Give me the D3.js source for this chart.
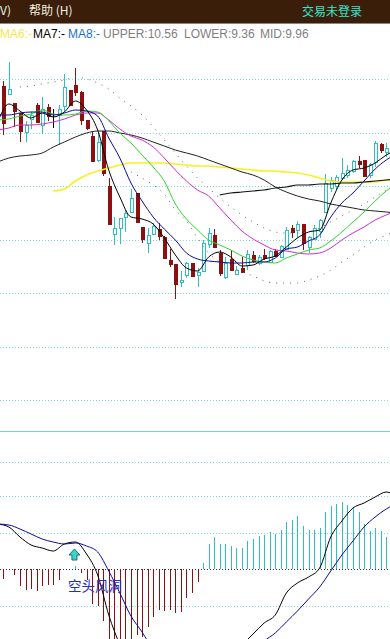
<!DOCTYPE html>
<html lang="zh">
<head>
<meta charset="UTF-8">
<title>K线</title>
<style>
    html, body { margin: 0; padding: 0; background: #fff; overflow: hidden; }
    svg { display: block; }
</style>
</head>
<body>
<script src="https://cdnjs.cloudflare.com/ajax/libs/d3/7.8.2/d3.min.js"></script>
<script>

// one entry per bar
const highs = [10.95,11.14,10.73,10.63,10.55,10.64,10.73,10.79,10.72,10.67,10.71,11.02,10.86,11.08,10.85,10.56,10.44,10.43,10.45,9.98,9.59,9.58,9.66,9.87,9.83,9.49,9.48,9.53,9.53,9.40,9.27,9.12,9.05,9.14,9.13,9.08,9.36,9.48,9.47,9.26,9.19,9.26,9.10,9.19,9.26,9.25,9.21,9.27,9.26,9.27,9.31,9.49,9.51,9.55,9.52,9.40,9.51,9.57,10.02,9.99,10.01,10.18,10.11,10.16,10.20,10.16,10.13,10.35,10.33,10.33];
const opens = [10.90,10.82,10.73,10.63,10.44,10.57,10.71,10.51,10.69,10.61,10.61,10.70,10.86,10.91,10.84,10.56,10.40,10.16,10.45,9.90,9.42,9.48,9.59,9.64,9.83,9.49,9.33,9.42,9.47,9.39,9.16,9.12,8.94,9.01,9.13,9.01,9.05,9.32,9.41,9.23,8.99,9.17,9.02,9.08,9.11,9.21,9.13,9.21,9.14,9.25,9.19,9.27,9.48,9.46,9.52,9.29,9.37,9.45,9.64,9.88,9.90,9.98,10.01,10.05,10.15,10.16,10.01,10.14,10.32,10.24];
const closes = [10.53,10.87,10.65,10.45,10.51,10.61,10.54,10.67,10.60,10.61,10.67,10.89,10.71,10.84,10.56,10.48,10.15,10.34,10.03,9.52,9.48,9.58,9.63,9.78,9.54,9.37,9.41,9.50,9.40,9.18,9.12,8.92,8.96,9.13,9.00,9.04,9.33,9.43,9.29,9.03,9.13,9.06,9.06,9.04,9.22,9.15,9.19,9.18,9.25,9.20,9.30,9.46,9.44,9.52,9.33,9.39,9.48,9.56,9.93,9.96,9.99,10.03,10.06,10.15,10.12,10.00,10.12,10.33,10.26,10.28];
const lows = [10.41,10.81,10.49,10.34,10.34,10.47,10.53,10.42,10.55,10.48,10.31,10.64,10.71,10.80,10.51,10.46,10.15,10.14,10.00,9.52,9.31,9.32,9.44,9.64,9.53,9.33,9.23,9.41,9.36,9.17,9.09,8.77,8.89,8.98,8.99,8.89,9.05,9.28,9.29,9.00,8.97,9.06,9.01,9.03,9.06,9.13,9.11,9.16,9.13,9.19,9.19,9.26,9.38,9.38,9.26,9.23,9.36,9.38,9.64,9.84,9.86,9.96,9.98,10.03,10.08,10.00,9.98,10.09,10.23,10.19];
const macdHist = [-0.10,0,-0.06,-0.17,-0.21,-0.20,-0.22,-0.17,-0.16,-0.16,-0.11,0,0,0.03,-0.04,-0.11,-0.35,-0.37,-0.52,-0.75,-0.75,-0.72,-0.75,-0.72,-0.66,-0.68,-0.58,-0.48,-0.41,-0.42,-0.41,-0.44,-0.43,-0.29,-0.24,-0.13,0.06,0.25,0.32,0.25,0.25,0.23,0.21,0.21,0.28,0.30,0.33,0.34,0.37,0.35,0.39,0.47,0.49,0.53,0.43,0.39,0.39,0.41,0.57,0.63,0.65,0.67,0.64,0.62,0.57,0.45,0.38,0.41,0.38,0.32];

// the lines were read every second bar, starting one bar off the left edge
const sampleBars = d3.range(-1, 72, 2);
const ma5 = [10.54,10.72,10.65,10.58,10.63,10.59,10.64,10.75,10.66,10.46,10.06,9.79,9.59,9.57,9.52,9.38,9.21,9.08,9.05,9.19,9.24,9.19,9.10,9.11,9.17,9.20,9.29,9.38,9.44,9.46,9.73,9.96,10.06,10.08,10.13,10.21,10.26];
const ma10 = [10.61,10.61,10.63,10.64,10.64,10.61,10.63,10.66,10.65,10.60,10.38,10.18,9.93,9.75,9.59,9.47,9.36,9.23,9.17,9.15,9.14,9.13,9.13,9.14,9.14,9.18,9.27,9.29,9.35,9.41,9.59,9.73,9.83,9.95,10.07,10.16,10.23];
const ma20 = [10.56,10.57,10.60,10.62,10.66,10.62,10.61,10.62,10.65,10.64,10.55,10.43,10.33,10.21,10.09,9.95,9.72,9.57,9.46,9.36,9.31,9.26,9.20,9.16,9.14,9.13,9.18,9.22,9.26,9.28,9.35,9.44,9.54,9.64,9.75,9.85,9.93];
const ma30 = [10.46,10.48,10.51,10.51,10.52,10.54,10.57,10.61,10.63,10.63,10.56,10.47,10.40,10.36,10.29,10.18,10.06,9.95,9.86,9.80,9.68,9.56,9.45,9.37,9.31,9.26,9.25,9.23,9.22,9.23,9.28,9.36,9.43,9.49,9.56,9.61,9.66];
const ma60 = [10.14,10.18,10.20,10.21,10.23,10.29,10.34,10.39,10.43,10.45,10.45,10.43,10.41,10.38,10.34,10.30,10.26,10.23,10.20,10.16,10.12,10.08,10.04,10.01,9.96,9.89,9.84,9.80,9.77,9.75,9.72,9.70,9.68,9.66,9.65,9.64,9.63];
const ma120 = [null,null,null,null,null,9.85,9.87,9.95,10.01,10.05,10.08,10.11,10.13,10.13,10.13,10.13,10.12,10.11,10.10,10.10,10.09,10.08,10.07,10.06,10.05,10.05,10.04,10.03,10.01,9.98,9.95,9.94,9.94,9.94,9.94,9.96,9.97];
const ma250 = [null,null,null,null,null,null,null,null,null,null,null,null,null,null,null,null,null,null,null,null,9.81,9.83,9.84,9.85,9.86,9.88,9.89,9.91,9.91,9.92,9.92,9.93,9.93,9.94,9.95,9.96,9.97];
const upper = [null,null,10.89,10.90,10.92,10.94,10.96,10.99,10.97,10.93,10.87,10.78,10.70,10.61,10.49,10.36,10.23,10.10,9.98,9.88,9.78,9.69,9.61,9.54,9.48,9.44,9.43,9.43,9.44,9.48,9.54,9.60,9.66,9.72,9.79,9.86,9.91];
const lower = [null,null,null,null,null,null,null,null,null,null,null,null,10.04,9.98,9.91,9.82,9.66,9.55,9.38,9.23,9.14,9.09,9.04,9.00,8.95,8.93,8.93,8.93,8.96,9.00,9.06,9.14,9.21,9.29,9.36,9.41,9.45];
const dif = [0.45,0.42,0.32,0.24,0.21,0.18,0.25,0.27,0.15,-0.06,-0.46,-0.76,-1.01,-1.21,-1.31,-1.36,-1.31,-1.26,-1.16,-1.06,-0.96,-0.86,-0.76,-0.65,-0.54,-0.46,-0.24,-0.14,-0.08,0.01,0.32,0.48,0.61,0.66,0.72,0.77,0.72];
const dea = [0.45,0.44,0.40,0.35,0.30,0.27,0.25,0.26,0.23,0.17,-0.02,-0.24,-0.47,-0.63,-0.81,-0.96,-1.11,-1.21,-1.26,-1.23,-1.16,-1.06,-0.96,-0.83,-0.72,-0.64,-0.53,-0.42,-0.30,-0.18,-0.02,0.14,0.28,0.42,0.52,0.60,0.66];

const priceGrid = [10.97,10.43,9.90,9.36,8.83,8.29,7.76];
const macdGrid = [1.07,0.73,0.36,-0.37];
const legend = [
    {label:"MA6:-", color:"#f2e84e", at:0},
    {label:"MA7:-", color:"#000", at:33},
    {label:"MA8:-", color:"#1a72c8", at:68},
    {label:"UPPER:10.56", color:"#808080", at:103},
    {label:"LOWER:9.36", color:"#808080", at:184},
    {label:"MID:9.96", color:"#808080", at:260}
];
const signalBar = 13;

const w = 390;
const h = 639;
const red = "#8b1010";
const teal = "#2cc0c0";

const svg = d3.select("body").append("svg")
    .attr("width", w)
    .attr("height", h);

const x = d3.scaleLinear().domain([0, 69]).range([3.3, 386.25]);
const yPrice = d3.scaleLinear().domain([11.76, 7.46]).range([0, 430]);
const yMacd = d3.scaleLinear().domain([1.38, -0.70]).range([431, 639]);
const snap = v => Math.round(v) + 0.5;

// header
svg.append("rect").attr("width", w).attr("height", 23).attr("fill", "#3a1e0a");
svg.append("rect").attr("y", 23).attr("width", w).attr("height", 1).attr("fill", "#8a8580");
svg.append("text").attr("x", 0).attr("y", 15).attr("fill", "#f4efe0")
    .style("font", "12px 'Noto Sans CJK SC'").text("V)");
svg.append("text").attr("x", 29).attr("y", 15).attr("fill", "#f4efe0")
    .style("font", "12px 'Noto Sans CJK SC'").text("帮助 (H)");
svg.append("text").attr("x", 302).attr("y", 16).attr("fill", "#35e6cf")
    .style("font", "12px 'Noto Sans CJK SC'").text("交易未登录");

svg.selectAll("text.legend")
    .data(legend)
    .enter()
    .append("text")
        .attr("class", "legend")
        .attr("x", d => d.at)
        .attr("y", 38)
        .attr("fill", d => d.color)
        .style("font", "12px 'Liberation Sans'")
        .text(d => d.label);

// grid
svg.selectAll("line.grid")
    .data(priceGrid.map(yPrice).concat(macdGrid.map(yMacd)))
    .enter()
    .append("line")
        .attr("class", "grid")
        .attr("x1", 0).attr("x2", w)
        .attr("y1", d => snap(d)).attr("y2", d => snap(d))
        .attr("stroke", "#7fdcdc")
        .attr("stroke-dasharray", "1 2");

svg.append("line")
    .attr("x1", 0).attr("x2", w)
    .attr("y1", 431.5).attr("y2", 431.5)
    .attr("stroke", "#6fd4d4");

svg.append("line")
    .attr("x1", 0).attr("x2", w)
    .attr("y1", snap(yMacd(0))).attr("y2", snap(yMacd(0)))
    .attr("stroke", "#333")
    .attr("stroke-dasharray", "1 2");

// macd bars
svg.selectAll("line.hist")
    .data(macdHist)
    .enter()
    .append("line")
        .attr("class", "hist")
        .attr("shape-rendering", "crispEdges")
        .attr("x1", (d, i) => snap(x(i))).attr("x2", (d, i) => snap(x(i)))
        .attr("y1", yMacd(0))
        .attr("y2", d => yMacd(d))
        .attr("stroke", d => d < 0 ? red : teal);

// candles
const candles = svg.selectAll("g.candle")
    .data(d3.range(highs.length))
    .enter()
    .append("g")
        .attr("class", "candle")
        .attr("shape-rendering", "crispEdges");

const candleColor = i => closes[i] < opens[i] ? red : (closes[i] == opens[i] ? "#000" : teal);

candles.append("line")
    .attr("x1", i => snap(x(i))).attr("x2", i => snap(x(i)))
    .attr("y1", i => yPrice(highs[i])).attr("y2", i => yPrice(lows[i]))
    .attr("stroke", candleColor);

candles.append("rect")
    .attr("x", i => Math.round(x(i)) - 1)
    .attr("y", i => Math.round(yPrice(Math.max(opens[i], closes[i]))) + 0.5)
    .attr("width", 3)
    .attr("height", i => Math.max(0, yPrice(Math.min(opens[i], closes[i])) - yPrice(Math.max(opens[i], closes[i]))))
    .attr("fill", i => closes[i] < opens[i] ? red : "#fff")
    .attr("stroke", candleColor);

// lines
const priceLine = d3.line()
    .defined(d => d !== null)
    .x((d, i) => x(sampleBars[i]))
    .y(d => yPrice(d))
    .curve(d3.curveMonotoneX);

const macdLine = d3.line()
    .x((d, i) => x(sampleBars[i]))
    .y(d => yMacd(d))
    .curve(d3.curveMonotoneX);

const drawLine = (gen, values, color, width, dash) => svg.append("path")
    .attr("d", gen(values))
    .attr("fill", "none")
    .attr("stroke", color)
    .attr("stroke-width", width)
    .attr("stroke-dasharray", dash || null);

drawLine(priceLine, upper, "#666", 1, "1 6");
drawLine(priceLine, lower, "#666", 1, "1 6");
drawLine(priceLine, ma120, "#f6f21e", 1.6);
drawLine(priceLine, ma60, "#222", 1);
drawLine(priceLine, ma250, "#111", 1.2);
drawLine(priceLine, ma30, "#d02cd0", 1);
drawLine(priceLine, ma20, "#2cd82c", 1);
drawLine(priceLine, ma10, "#0c0c9c", 1);
drawLine(priceLine, ma5, "#000", 1);

drawLine(macdLine, dif, "#000", 1);
drawLine(macdLine, dea, "#0c0c9c", 1);

// signal
const ax = x(signalBar) - 1;
svg.append("path")
    .attr("d", `M${ax},549 l5.5,6 h-3 v5 h-5 v-5 h-3 Z`)
    .attr("fill", "#35d8c8")
    .attr("stroke", "#2a6a6a");

svg.append("text")
    .attr("x", 68).attr("y", 591)
    .attr("fill", "#1f2fc0")
    .style("font", "13.5px 'Noto Sans CJK SC'")
    .text("空头风洞");

</script>
</body>
</html>
